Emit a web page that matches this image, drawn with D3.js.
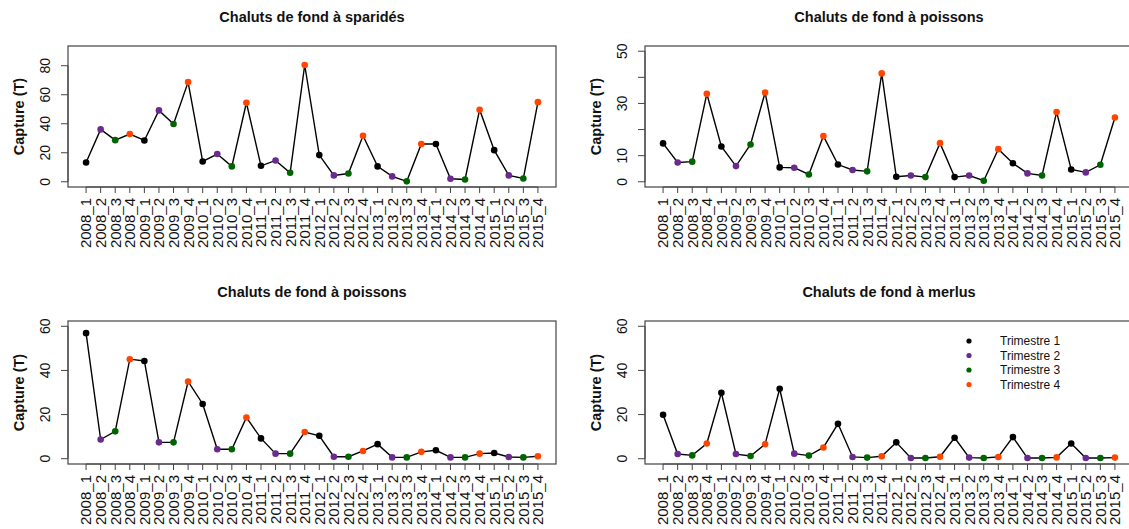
<!DOCTYPE html>
<html>
<head>
<meta charset="utf-8">
<script src="https://cdn.jsdelivr.net/npm/d3@7"></script>
<style>
  body { margin: 0; background: #fff; }
  text { font-family: "Liberation Sans", Arial, sans-serif; fill: #111; }
</style>
</head>
<body>
<script>
// quarters 2008_1 ... 2015_4
const periods = [
  "2008_1","2008_2","2008_3","2008_4","2009_1","2009_2","2009_3","2009_4",
  "2010_1","2010_2","2010_3","2010_4","2011_1","2011_2","2011_3","2011_4",
  "2012_1","2012_2","2012_3","2012_4","2013_1","2013_2","2013_3","2013_4",
  "2014_1","2014_2","2014_3","2014_4","2015_1","2015_2","2015_3","2015_4"
];
const quarterNames = ["Trimestre 1", "Trimestre 2", "Trimestre 3", "Trimestre 4"];
const quarterColors = ["#000000", "#6a2a90", "#006400", "#ff4500"];

const titles = [
  "Chaluts de fond à sparidés",
  "Chaluts de fond à poissons",
  "Chaluts de fond à poissons",
  "Chaluts de fond à merlus"
];

const sparides = [13.3, 36.1, 28.7, 32.9, 28.5, 49.2, 39.8, 68.7, 14.0, 19.1, 10.6, 54.5,
  11.0, 14.7, 6.2, 80.5, 18.4, 4.4, 5.7, 31.7, 10.6, 3.7, 0.3, 26.0,
  26.0, 2.1, 1.6, 49.7, 21.8, 4.4, 2.3, 54.9];
const poissonsA = [14.7, 7.4, 7.7, 33.7, 13.5, 6.0, 14.3, 34.2, 5.5, 5.4, 2.8, 17.5,
  6.6, 4.5, 4.0, 41.5, 1.9, 2.4, 1.8, 14.8, 1.8, 2.4, 0.4, 12.5,
  7.1, 3.2, 2.4, 26.7, 4.7, 3.6, 6.5, 24.6];
const poissonsB = [56.9, 8.7, 12.4, 45.1, 44.3, 7.4, 7.4, 35.0, 24.8, 4.3, 4.3, 18.7,
  9.2, 2.3, 2.3, 12.1, 10.4, 0.9, 0.9, 3.5, 6.6, 0.6, 0.6, 3.1,
  3.8, 0.6, 0.6, 2.3, 2.6, 0.8, 0.6, 1.1];
const merlus = [19.9, 2.1, 1.5, 6.9, 29.9, 2.1, 1.2, 6.6, 31.7, 2.3, 1.4, 5.1,
  15.8, 0.8, 0.5, 1.1, 7.4, 0.3, 0.3, 0.9, 9.5, 0.5, 0.3, 0.8,
  9.8, 0.3, 0.3, 0.6, 6.9, 0.3, 0.3, 0.5];

// y limits and ticks for each panel (R style, some labels dropped)
const yLimits = [[0, 90], [0, 50], [0, 60], [0, 60]];
const yTicks = [[0, 20, 40, 60, 80], [0, 10, 20, 30, 40, 50], [0, 20, 40, 60], [0, 20, 40, 60]];
const yTickLabels = [[0, 20, 40, 60, 80], [0, 10, 30, 50], [0, 20, 40, 60], [0, 20, 40, 60]];

const series = [sparides, poissonsA, poissonsB, merlus];

// plot boxes
const boxes = [
  {left: 68, right: 556, top: 46, bottom: 187},
  {left: 645, right: 1133, top: 46, bottom: 187},
  {left: 68, right: 556, top: 321, bottom: 464},
  {left: 645, right: 1133, top: 321, bottom: 464}
];

const svg = d3.select("body").append("svg")
  .attr("width", 1129)
  .attr("height", 529);

series.forEach(function(values, p) {
  const b = boxes[p];
  const lim = yLimits[p];
  const ext = (lim[1] - lim[0]) * 0.04;

  const x = d3.scalePoint().domain(periods).range([b.left, b.right]).padding(1.24);
  const y = d3.scaleLinear().domain([lim[0] - ext, lim[1] + ext]).range([b.bottom, b.top]);

  const g = svg.append("g");

  // title
  g.append("text")
    .attr("x", (b.left + b.right) / 2)
    .attr("y", b.top - 24)
    .attr("text-anchor", "middle")
    .style("font-size", "14.5px")
    .style("font-weight", "bold")
    .text(titles[p]);

  // y axis label
  g.append("text")
    .attr("transform", "translate(" + (b.left - 44) + "," + ((b.top + b.bottom) / 2) + ") rotate(-90)")
    .attr("text-anchor", "middle")
    .style("font-size", "14.5px")
    .style("font-weight", "bold")
    .text("Capture (T)");

  // y axis ticks
  const yt = yTicks[p];
  g.append("line")
    .attr("x1", b.left).attr("x2", b.left)
    .attr("y1", y(yt[0])).attr("y2", y(yt[yt.length - 1]))
    .attr("stroke", "#444");
  g.selectAll(".ytick").data(yt).enter().append("line")
    .attr("x1", b.left - 7).attr("x2", b.left)
    .attr("y1", d => y(d)).attr("y2", d => y(d))
    .attr("stroke", "#444");
  g.selectAll(".ylab").data(yTickLabels[p]).enter().append("text")
    .attr("transform", d => "translate(" + (b.left - 18) + "," + y(d) + ") rotate(-90)")
    .attr("text-anchor", "middle")
    .style("font-size", "14px")
    .text(d => d);

  // x axis ticks and labels
  g.selectAll(".xtick").data(periods).enter().append("line")
    .attr("x1", d => x(d)).attr("x2", d => x(d))
    .attr("y1", b.bottom).attr("y2", b.bottom + 6)
    .attr("stroke", "#444");
  g.append("line")
    .attr("x1", x(periods[0])).attr("x2", x(periods[periods.length - 1]))
    .attr("y1", b.bottom).attr("y2", b.bottom)
    .attr("stroke", "#444");
  g.selectAll(".xlab").data(periods).enter().append("text")
    .attr("transform", d => "translate(" + x(d) + "," + (b.bottom + 11) + ") rotate(-90)")
    .attr("text-anchor", "end")
    .attr("dy", "0.36em")
    .style("font-size", "15px")
    .text(d => d);

  // box
  g.append("rect")
    .attr("x", b.left).attr("y", b.top)
    .attr("width", b.right - b.left).attr("height", b.bottom - b.top)
    .attr("fill", "none")
    .attr("stroke", "#444")
    .attr("stroke-width", 1.2);

  // line
  const line = d3.line()
    .x((d, i) => x(periods[i]))
    .y(d => y(d));
  g.append("path")
    .datum(values)
    .attr("d", line)
    .attr("fill", "none")
    .attr("stroke", "#000")
    .attr("stroke-width", 1.4);

  // points coloured by quarter
  g.selectAll(".pt").data(values).enter().append("circle")
    .attr("cx", (d, i) => x(periods[i]))
    .attr("cy", d => y(d))
    .attr("r", 3.3)
    .attr("fill", (d, i) => quarterColors[i % 4]);
});

// legend in the last panel
const lb = boxes[3];
const legend = svg.append("g");
quarterNames.forEach(function(name, i) {
  legend.append("circle")
    .attr("cx", lb.left + 324)
    .attr("cy", lb.top + 20 + i * 14.5)
    .attr("r", 2.6)
    .attr("fill", quarterColors[i]);
  legend.append("text")
    .attr("x", lb.left + 355)
    .attr("y", lb.top + 20 + i * 14.5)
    .attr("dy", "0.35em")
    .style("font-size", "12px")
    .text(name);
});
</script>
</body>
</html>
